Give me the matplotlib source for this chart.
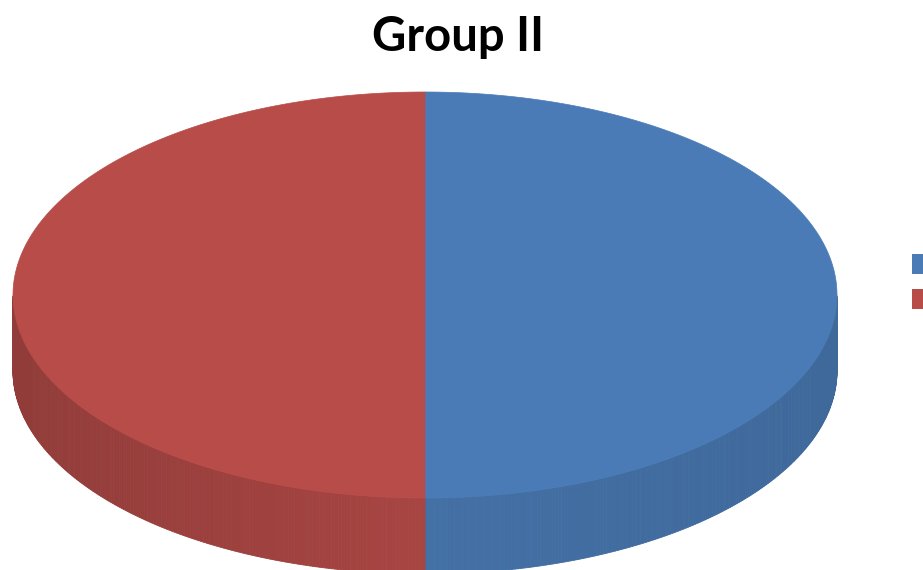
import numpy as np
import matplotlib
matplotlib.use('Agg')
import matplotlib.pyplot as plt
from matplotlib.patches import Polygon, Patch
from matplotlib.colors import to_rgb

# --- Data ---
labels = ['Series 1', 'Series 2']
values = [50, 50]
top_colors = ['#4a7bb6', '#b84c49']
title = 'Group II'

# --- Layout (pixels) ---
W, H = 923, 570
cx, cy = 425, 295      # centre of top face
rx, ry = 412, 203      # radii of top face
depth = 76             # thickness of the disc


def pt(theta, dy=0.0):
    return cx + rx * np.cos(theta), cy - ry * np.sin(theta) + dy


def shade(color, f):
    r, g, b = to_rgb(color)
    return (r * f, g * f, b * f)


fig = plt.figure(figsize=(W / 100, H / 100), dpi=100)
ax = fig.add_axes([0, 0, 1, 1])
ax.set_xlim(0, W)
ax.set_ylim(H, 0)
ax.axis('off')

# wedge angles: start at top, go clockwise
fracs = np.array(values, dtype=float) / sum(values)
starts = np.pi / 2 - 2 * np.pi * np.concatenate([[0], np.cumsum(fracs)[:-1]])
ends = starts - 2 * np.pi * fracs

# sides (only the front half of the rim is visible)
for a, b, col in zip(starts, ends, top_colors):
    lo, hi = min(a, b), max(a, b)
    th = np.linspace(lo, hi, 400)
    th = th[np.sin(th) <= 0.001]
    if len(th) < 2:
        continue
    for t0, t1 in zip(th[:-1], th[1:]):
        c = np.cos(0.5 * (t0 + t1))
        # darker towards the left edge, a bit darker towards the right edge
        f = 0.91 - (0.12 if c < 0 else 0.06) * abs(c)
        x0, y0 = pt(t0)
        x1, y1 = pt(t1)
        poly = Polygon([(x0, y0), (x1, y1), (x1, y1 + depth), (x0, y0 + depth)],
                       closed=True, facecolor=shade(col, f), edgecolor=shade(col, f),
                       linewidth=0.6)
        ax.add_patch(poly)

# top faces
for a, b, col in zip(starts, ends, top_colors):
    th = np.linspace(a, b, 300)
    xs, ys = pt(th)
    verts = [(cx, cy)] + list(zip(xs, ys))
    ax.add_patch(Polygon(verts, closed=True, facecolor=col, edgecolor=col, linewidth=0.5))

fig.text(458 / W, 1 - 37 / H, title, ha='center', va='center',
         fontsize=34, fontweight='bold', family='Lato')

handles = [Patch(facecolor=c, edgecolor='none') for c in top_colors]
fig.legend(handles, labels, loc='upper left', bbox_to_anchor=(912 / W, 1 - 254 / H),
           frameon=False, fontsize=13, handlelength=1.0, handleheight=1.3,
           labelspacing=0.85, handletextpad=0.6, borderpad=0.0, borderaxespad=0.0)

fig.savefig('out.png', dpi=100)
